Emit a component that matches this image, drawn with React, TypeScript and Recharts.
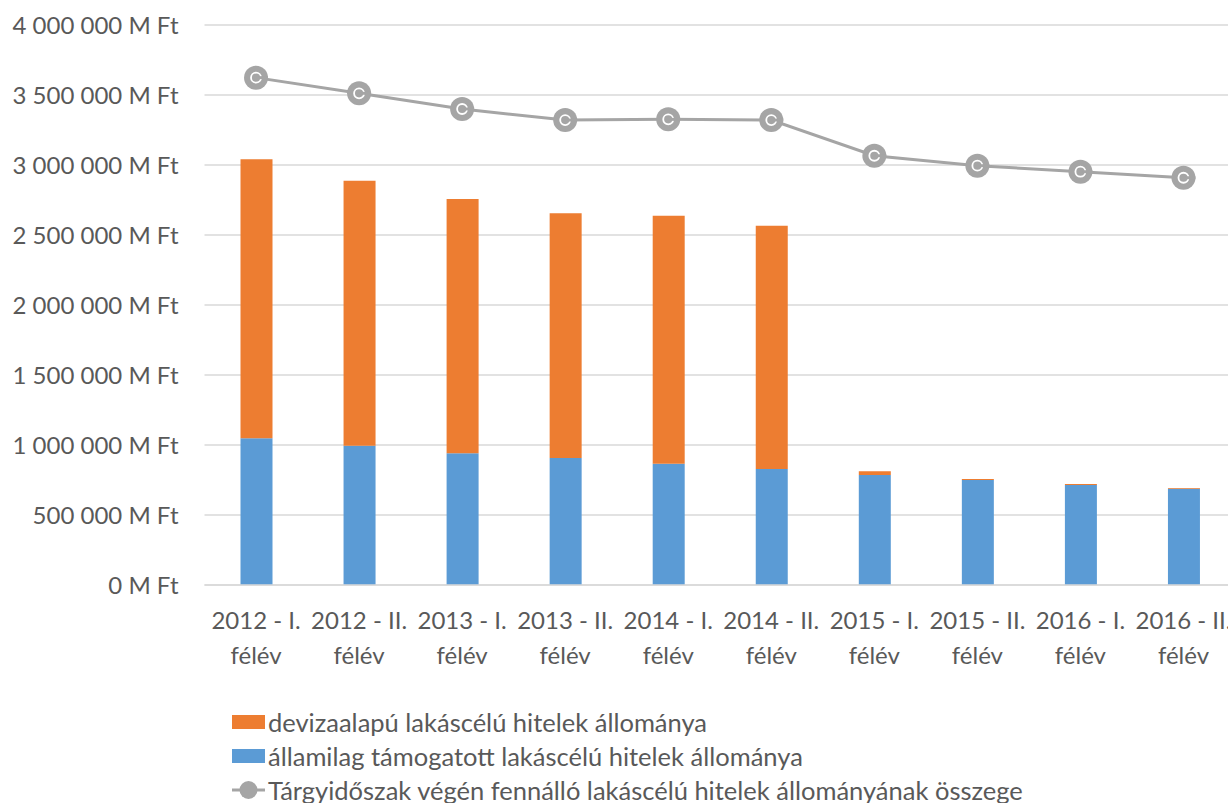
import React from 'react';
import {
  ComposedChart,
  Bar,
  Line,
  XAxis,
  YAxis,
  CartesianGrid,
  Legend,
} from 'recharts';

const categories = [
  '2012 - I. félév',
  '2012 - II. félév',
  '2013 - I. félév',
  '2013 - II. félév',
  '2014 - I. félév',
  '2014 - II. félév',
  '2015 - I. félév',
  '2015 - II. félév',
  '2016 - I. félév',
  '2016 - II. félév',
];

// államilag támogatott (blue, bottom of stack)
const allamilag = [1048000, 995000, 941000, 907000, 866000, 829000, 786000, 750000, 714000, 688000];
// devizaalapú (orange, top of stack)
const deviza = [1993000, 1893000, 1816000, 1748000, 1772000, 1737000, 26000, 8000, 7000, 5000];
// total at period end (grey line)
const osszeg = [3624000, 3512000, 3400000, 3321000, 3326000, 3321000, 3066000, 2995000, 2952000, 2909000];

const yTicks = [0, 500000, 1000000, 1500000, 2000000, 2500000, 3000000, 3500000, 4000000];

const seriesNames = {
  deviza: 'devizaalapú lakáscélú hitelek állománya',
  allamilag: 'államilag támogatott lakáscélú hitelek állománya',
  osszeg: 'Tárgyidőszak végén fennálló lakáscélú hitelek állományának összege',
};

const data = categories.map((cat, i) => ({
  cat,
  allamilag: allamilag[i],
  deviza: deviza[i],
  osszeg: osszeg[i],
}));

const colors = {
  orange: '#ED7D31',
  blue: '#5B9BD5',
  grey: '#A5A5A5',
  grid: '#D9D9D9',
  text: '#595959',
};

const FONT = 'Lato, "Liberation Sans", sans-serif';
const FONT_SIZE = 24;
const LEGEND_FONT_SIZE = 25.5;

const formatFt = (v: number) =>
  `${String(v).replace(/\B(?=(\d{3})+(?!\d))/g, ' ')} M Ft`;

function XTick({ x, y, payload }: any) {
  const value: string = payload.value;
  const idx = value.lastIndexOf(' ');
  const first = value.slice(0, idx);
  const second = value.slice(idx + 1);
  return (
    <text x={x} y={y} textAnchor="middle" fill={colors.text} fontSize={FONT_SIZE} fontFamily={FONT}>
      <tspan x={x} dy={36}>{first}</tspan>
      <tspan x={x} dy={35}>{second}</tspan>
    </text>
  );
}

function YTick({ x, y, payload }: any) {
  return (
    <text x={x} y={y} dy="0.36em" textAnchor="end" fill={colors.text} fontSize={FONT_SIZE} fontFamily={FONT}>
      {formatFt(payload.value)}
    </text>
  );
}

function Marker({ cx, cy }: any) {
  if (cx == null || cy == null) return null;
  return (
    <g>
      <circle cx={cx} cy={cy} r={12} fill={colors.grey} />
      <circle cx={cx} cy={cy} r={5} fill="none" stroke="#ffffff" strokeWidth={1.8} />
      <line x1={cx + 2} y1={cy} x2={cx + 12} y2={cy} stroke={colors.grey} strokeWidth={3} />
    </g>
  );
}

function LegendContent() {
  const row: React.CSSProperties = {
    display: 'flex',
    alignItems: 'center',
    height: 34,
    whiteSpace: 'nowrap',
  };
  const label: React.CSSProperties = { marginLeft: 3 };
  return (
    <div style={{ fontFamily: FONT, fontSize: LEGEND_FONT_SIZE, color: colors.text, height: 102 }}>
      <div style={row}>
        <span style={{ display: 'inline-block', width: 33, height: 14, background: colors.orange }} />
        <span style={label}>{seriesNames.deviza}</span>
      </div>
      <div style={row}>
        <span style={{ display: 'inline-block', width: 33, height: 14, background: colors.blue }} />
        <span style={label}>{seriesNames.allamilag}</span>
      </div>
      <div style={row}>
        <svg width={33} height={24}>
          <line x1={0} y1={12} x2={33} y2={12} stroke={colors.grey} strokeWidth={3} />
          <circle cx={16.5} cy={12} r={9} fill={colors.grey} />
        </svg>
        <span style={label}>{seriesNames.osszeg}</span>
      </div>
    </div>
  );
}

export default function App() {
  return (
    <div
      style={{
        position: 'fixed',
        top: 0,
        left: 0,
        width: 1228,
        height: 803,
        overflow: 'hidden',
        background: '#ffffff',
      }}
    >
      <ComposedChart
        width={1240}
        height={803}
        data={data}
        margin={{ top: 25, right: 5, left: 0, bottom: 16 }}
      >
        <CartesianGrid stroke={colors.grid} vertical={false} strokeWidth={1.5} />
        <XAxis
          dataKey="cat"
          height={100}
          interval={0}
          tick={<XTick />}
          tickLine={false}
          axisLine={{ stroke: colors.grid, strokeWidth: 1.5 }}
        />
        <YAxis
          width={204.5}
          domain={[0, 4000000]}
          ticks={yTicks}
          tick={<YTick />}
          tickSize={0}
          tickMargin={26}
          tickLine={false}
          axisLine={false}
        />
        <Legend
          verticalAlign="bottom"
          align="left"
          content={<LegendContent />}
          wrapperStyle={{ left: 232, top: 705, bottom: 'auto', width: 'auto' }}
        />
        <Bar dataKey="allamilag" name={seriesNames.allamilag} stackId="a" fill={colors.blue} barSize={32} isAnimationActive={false} />
        <Bar dataKey="deviza" name={seriesNames.deviza} stackId="a" fill={colors.orange} barSize={32} isAnimationActive={false} />
        <Line
          type="linear"
          dataKey="osszeg"
          name={seriesNames.osszeg}
          stroke={colors.grey}
          strokeWidth={3}
          dot={<Marker />}
          activeDot={false}
          isAnimationActive={false}
        />
      </ComposedChart>
    </div>
  );
}
